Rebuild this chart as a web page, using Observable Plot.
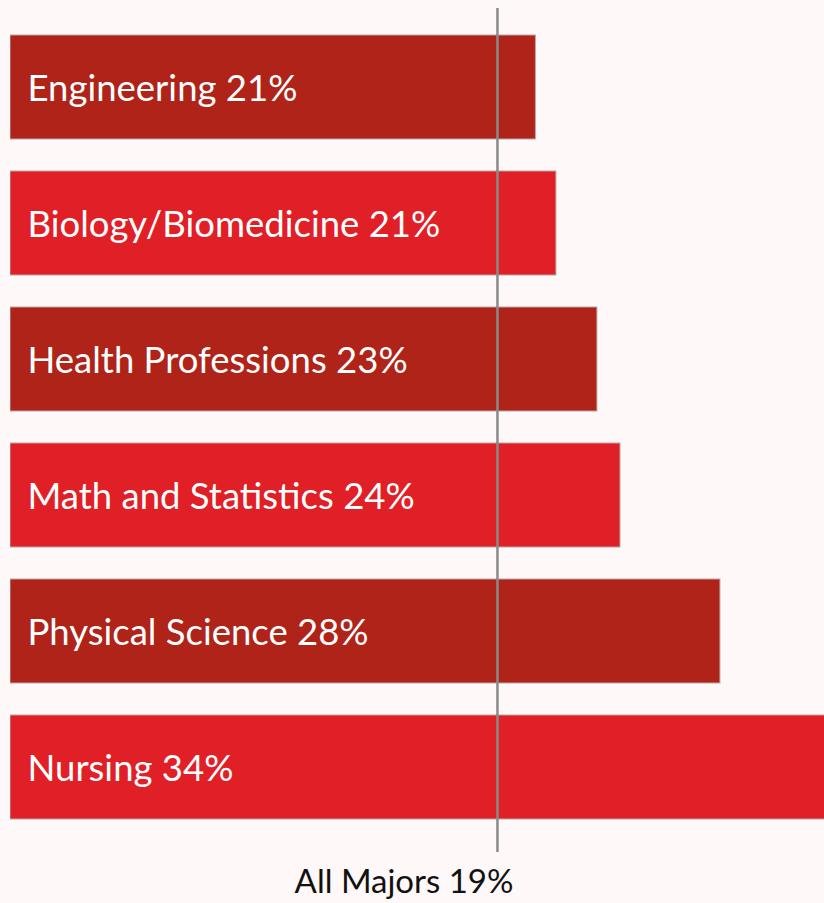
<!DOCTYPE html>
<html>
<head>
<meta charset="utf-8">
<script src="https://cdn.jsdelivr.net/npm/d3@7"></script>
<script src="https://cdn.jsdelivr.net/npm/@observablehq/plot@0.6"></script>
<style>
  html, body { margin: 0; padding: 0; background: #fef8f8; }
  #chart svg { display: block; }
</style>
</head>
<body>
<div id="chart"></div>
<script>
const categories = ["Engineering", "Biology/Biomedicine", "Health Professions", "Math and Statistics", "Physical Science", "Nursing"];
const values = [20.5, 21.3, 22.9, 23.8, 27.7, 34];
const pctLabels = ["21%", "21%", "23%", "24%", "28%", "34%"];
const shades = ["dark", "bright", "dark", "bright", "dark", "bright"];
const allMajors = 19;
const allMajorsLabel = "All Majors 19%";

const data = categories.map((c, i) => ({category: c, value: values[i], label: c + " " + pctLabels[i], shade: shades[i]}));

const chart = Plot.plot({
  width: 824,
  height: 903,
  marginLeft: 10,
  marginRight: 0,
  marginTop: 8,
  marginBottom: 51,
  style: {background: "#fef8f8", fontFamily: "Lato, sans-serif"},
  x: {domain: [0, 31.76], axis: null},
  y: {domain: categories, range: [34, 821], paddingInner: 0.234, paddingOuter: 0, axis: null},
  color: {domain: ["dark", "bright"], range: ["#b02318", "#e11f26"]},
  marks: [
    Plot.barX(data, {x: "value", y: "category", fill: "shade", stroke: "#b8a6a6", strokeWidth: 1, clip: true}),
    Plot.ruleX([allMajors], {stroke: "#8a8a8a", strokeWidth: 2.5}),
    Plot.text(data, {x: 0, y: "category", text: "label", textAnchor: "start", dx: 17, dy: 2, fill: "white", fontSize: 36.5, style: "word-spacing: 3px"}),
    Plot.text([allMajorsLabel], {x: allMajors, frameAnchor: "bottom", text: d => d, textAnchor: "end", dx: 16, dy: 40, fill: "#111", fontSize: 33, style: "word-spacing: 3px"})
  ]
});
document.getElementById("chart").appendChild(chart);
</script>
</body>
</html>
